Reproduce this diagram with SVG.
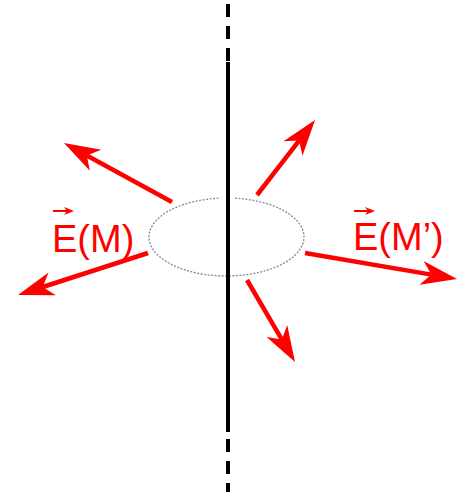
<svg xmlns="http://www.w3.org/2000/svg" width="458" height="492" viewBox="0 0 458 492">
<style>
.vec{stroke:#ff0000;stroke-width:4.5;fill:none;marker-end:url(#head)}
.axis{stroke:#000;stroke-width:4;fill:none}
.lbl{font-family:"Liberation Sans",Arial,sans-serif;font-size:38px;fill:#ff0000}
.small{stroke:#ff0000;stroke-width:2;fill:none;marker-end:url(#sh)}
</style>
<defs>
<marker id="head" markerUnits="userSpaceOnUse" viewBox="0 0 40 28" markerWidth="40" markerHeight="28" refX="14" refY="14" orient="auto">
<path d="M40,14 L4,2 L14,14 L4,26 Z" fill="#ff0000"/>
</marker>
<marker id="sh" markerUnits="userSpaceOnUse" viewBox="0 0 10 8" markerWidth="10" markerHeight="8" refX="3" refY="4" orient="auto">
<path d="M10,4 L0,0 L3,4 L0,8 Z" fill="#ff0000"/>
</marker>
</defs>
<rect width="458" height="492" fill="#fff"/>
<g id="loop">
<path d="M235,198.2 A77.5,39 0 1 1 220,198.1" fill="none" stroke="#888" stroke-width="1.3" stroke-dasharray="2,1.5"/>
</g>
<g id="axis">
<line class="axis" x1="228" y1="4" x2="228" y2="62" stroke-dasharray="13,9"/>
<line class="axis" x1="228" y1="62" x2="228" y2="432"/>
<line class="axis" x1="228" y1="439" x2="228" y2="492" stroke-dasharray="13,9"/>
</g>
<g id="connectors">
<line class="vec" x1="172" y1="202" x2="86.8" y2="155.5"/>
<line class="vec" x1="257" y1="195" x2="299.1" y2="140.6"/>
<line class="vec" x1="148" y1="253" x2="42.7" y2="287"/>
<line class="vec" x1="305" y1="253" x2="431.4" y2="274.6"/>
<line class="vec" x1="247" y1="280" x2="281.9" y2="339.6"/>
</g>
<g id="label-EM">
<line class="small" x1="53" y1="211" x2="67" y2="211"/>
<text class="lbl" x="52" y="252">E(M)</text>
</g>
<g id="label-EMp">
<line class="small" x1="354" y1="211" x2="368" y2="211"/>
<text class="lbl" x="353" y="250">E(M’)</text>
</g>
</svg>
